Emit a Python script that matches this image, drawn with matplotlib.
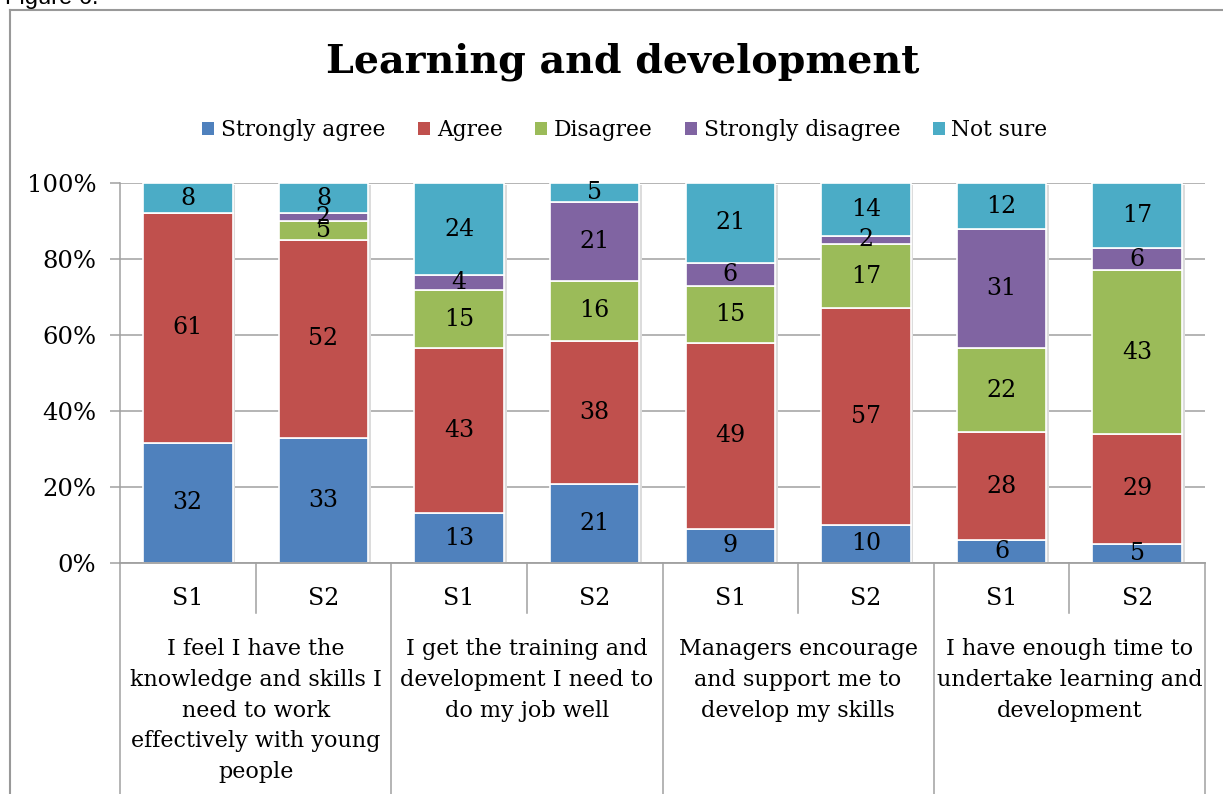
import numpy as np
import matplotlib.pyplot as plt
from matplotlib.lines import Line2D
from matplotlib.patches import Patch
from matplotlib.ticker import FuncFormatter

# survey waves and the four statements
waves = ["S1", "S2", "S1", "S2", "S1", "S2", "S1", "S2"]
statements = [
    "I feel I have the\nknowledge and skills I\nneed to work\neffectively with young\npeople",
    "I get the training and\ndevelopment I need to\ndo my job well",
    "Managers encourage\nand support me to\ndevelop my skills",
    "I have enough time to\nundertake learning and\ndevelopment",
]

responses = ["Strongly agree", "Agree", "Disagree", "Strongly disagree", "Not sure"]
strongly_agree = [32, 33, 13, 21, 9, 10, 6, 5]
agree = [61, 52, 43, 38, 49, 57, 28, 29]
disagree = [0, 5, 15, 16, 15, 17, 22, 43]
strongly_disagree = [0, 2, 4, 21, 6, 2, 31, 6]
not_sure = [8, 8, 24, 5, 21, 14, 12, 17]
colors = ["#4F81BD", "#C0504D", "#9BBB59", "#8064A2", "#4BACC6"]

series = np.array([strongly_agree, agree, disagree, strongly_disagree, not_sure], dtype=float)
shares = series / series.sum(axis=0)

serif = "DejaVu Serif"
fig = plt.figure(figsize=(12.23, 7.94), dpi=100)
ax = fig.add_axes([120 / 1223, 231 / 794, 1085 / 1223, 380 / 794])

x = np.arange(len(waves))
width = 0.66

# faint shadow behind each bar
ax.bar(x + 0.02, np.ones(len(x)), width, bottom=-0.006, color="#dcdcdc", zorder=1)

bottom = np.zeros(len(x))
for k, name in enumerate(responses):
    ax.bar(x, shares[k], width, bottom=bottom, color=colors[k],
           edgecolor="white", linewidth=1.2, zorder=2, label=name)
    for i in range(len(x)):
        if series[k, i] > 0:
            ax.text(x[i], bottom[i] + shares[k, i] / 2, f"{int(series[k, i])}",
                    ha="center", va="center", fontsize=17, family=serif, zorder=3)
    bottom += shares[k]

ax.set_xlim(-0.5, len(x) - 0.5)
ax.set_ylim(0, 1)
ax.set_yticks(np.arange(0, 1.01, 0.2))
ax.yaxis.set_major_formatter(FuncFormatter(lambda v, p: f"{v:.0%}"))
for lab in ax.get_yticklabels():
    lab.set_family(serif)
    lab.set_fontsize(17.5)
ax.tick_params(axis="y", length=7, width=1.1, color="#a0a0a0", pad=10)
ax.tick_params(axis="x", length=0, labelbottom=False)
ax.grid(axis="y", color="#a0a0a0", linewidth=1.1, zorder=0)
ax.set_axisbelow(True)
for s in ["top", "right", "bottom"]:
    ax.spines[s].set_visible(False)
ax.spines["left"].set_color("#a0a0a0")
ax.spines["left"].set_linewidth(1.1)

# category table below the axis
tr = ax.get_xaxis_transform()
ax.plot([-0.5, len(x) - 0.5], [0, 0], color="#a0a0a0", lw=1.3, transform=tr, clip_on=False, zorder=4)
for b in np.arange(-0.5, len(x), 1.0):
    long_line = int(round(b + 0.5)) % 2 == 0
    y_end = -0.62 if long_line else -0.132
    ax.plot([b, b], [0, y_end], color="#a0a0a0", lw=1.1, transform=tr, clip_on=False)
for i, w in enumerate(waves):
    ax.text(x[i], -0.094, w, ha="center", va="center", fontsize=17, family=serif, transform=tr)
for g, label in enumerate(statements):
    ax.text(2 * g + 0.5, -0.197, label, ha="center", va="top", fontsize=16,
            family=serif, linespacing=1.52, transform=tr)

fig.text(623 / 1223, 1 - 62 / 794, "Learning and development", ha="center", va="center",
         fontsize=28.5, fontweight="bold", family=serif)

handles = [Patch(facecolor=c, edgecolor="none") for c in colors]
fig.legend(handles, responses, loc="center", bbox_to_anchor=(625 / 1223, 1 - 130 / 794),
           ncol=5, frameon=False, prop={"family": serif, "size": 15.7},
           handlelength=0.55, handleheight=0.55, handletextpad=0.3, columnspacing=1.5)

# outer chart frame and cut-off caption
fig.add_artist(Line2D([10 / 1223, 10 / 1223], [0, 1 - 10 / 794], color="#999999", lw=1.5))
fig.add_artist(Line2D([10 / 1223, 1], [1 - 10 / 794, 1 - 10 / 794], color="#999999", lw=1.5))
fig.text(0.004, 1 - 4 / 794, "Figure 6.", ha="left", va="baseline", fontsize=17,
         family="Liberation Sans")

fig.savefig("out.png", dpi=100)
